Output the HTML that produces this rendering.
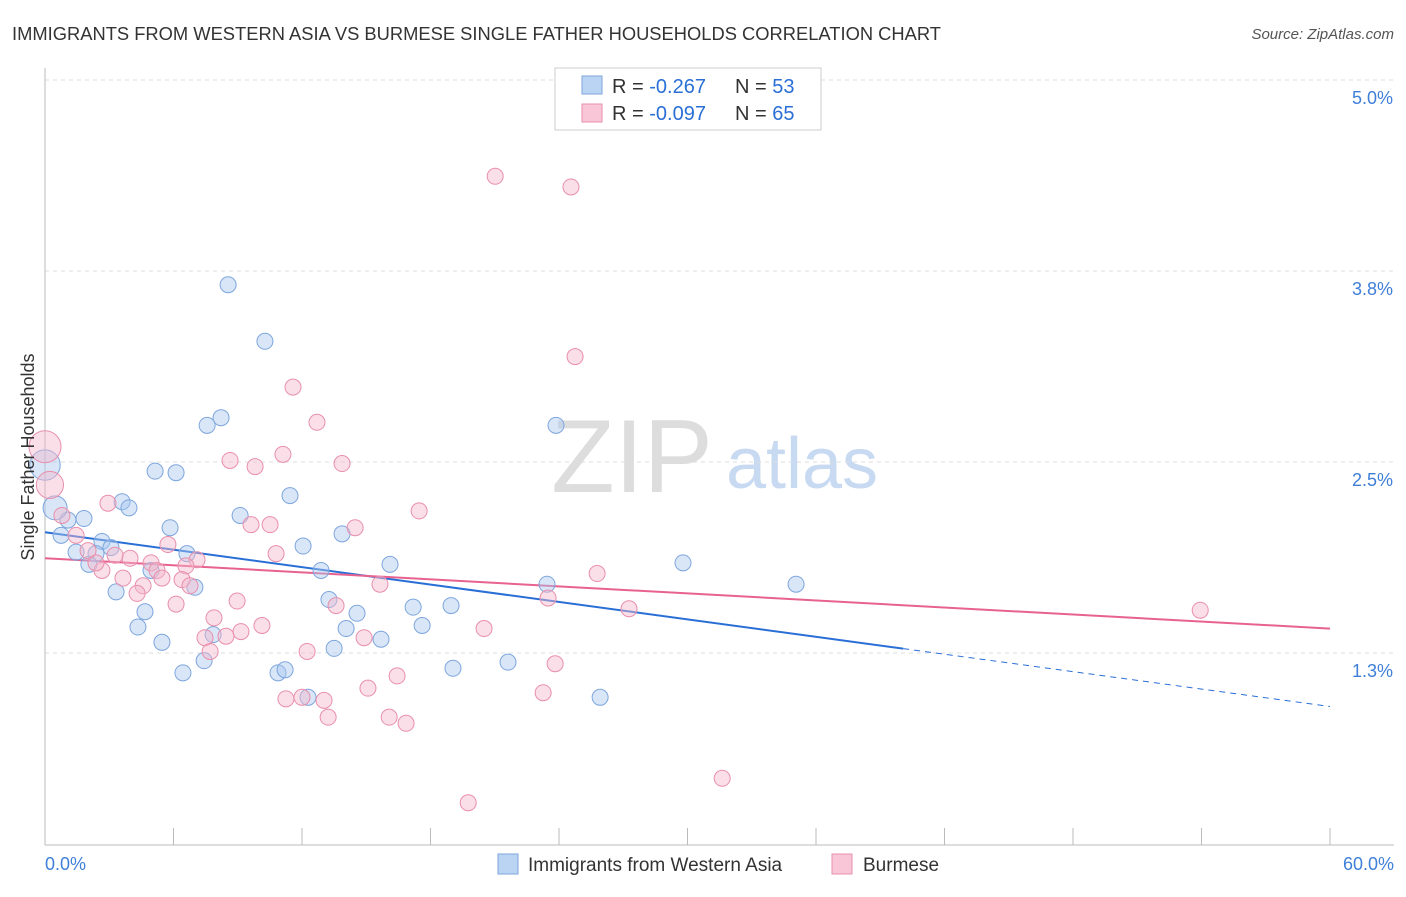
<!DOCTYPE html>
<html><head><meta charset="utf-8"><style>
body{margin:0;background:#fff;font-family:"Liberation Sans",sans-serif}
svg text{font-family:"Liberation Sans",sans-serif}
</style></head><body>
<svg id="chart" width="1406" height="892">
<text x="12" y="40" font-size="18" fill="#333" textLength="929" lengthAdjust="spacingAndGlyphs">IMMIGRANTS FROM WESTERN ASIA VS BURMESE SINGLE FATHER HOUSEHOLDS CORRELATION CHART</text>
<text x="1394" y="39" font-size="15" fill="#555" font-style="italic" text-anchor="end">Source: ZipAtlas.com</text>
<g><text x="632" y="492" font-size="104" fill="#ddd" text-anchor="middle" font-family="Liberation Serif">ZIP</text><text x="802" y="488" font-size="72" fill="#c8daf2" text-anchor="middle">atlas</text></g>
<g id="grid"></g><g id="axes"></g><g id="lines"></g><g id="pts"></g>
<text transform="translate(34,457) rotate(-90)" font-size="18" fill="#333" text-anchor="middle">Single Father Households</text>
<g>
<rect x="555" y="68" width="266" height="62" fill="#fff" stroke="#ccc"/>
<rect x="582" y="76" width="20" height="18" fill="#bcd4f4" stroke="#7ea6dd"/>
<rect x="582" y="104" width="20" height="18" fill="#f8c6d6" stroke="#e98fac"/>
<text x="612" y="93" font-size="20" fill="#333">R = <tspan fill="#2a6fd6">-0.267</tspan><tspan x="735">N = </tspan><tspan fill="#2a6fd6">53</tspan></text>
<text x="612" y="120" font-size="20" fill="#333">R = <tspan fill="#2a6fd6">-0.097</tspan><tspan x="735">N = </tspan><tspan fill="#2a6fd6">65</tspan></text>
</g>
<g>
<rect x="498" y="854" width="20" height="20" fill="#bcd4f4" stroke="#7ea6dd"/>
<text x="528" y="871" font-size="19" fill="#333">Immigrants from Western Asia</text>
<rect x="832" y="854" width="20" height="20" fill="#f8c6d6" stroke="#e98fac"/>
<text x="863" y="871" font-size="19" fill="#333">Burmese</text>
</g>
</svg>
<script>
const blueX=[8.55,10.27,8.22,7.57,23.86,5.14,6.12,11.44,3.60,3.92,9.11,1.82,1.07,5.84,13.87,0.75,2.66,3.08,12.05,6.63,2.38,1.45,16.11,29.79,2.05,4.95,12.89,7.00,23.44,35.07,3.32,13.26,17.19,18.96,4.67,14.57,17.61,4.34,14.06,7.85,5.46,15.69,13.50,21.62,19.05,7.43,6.44,10.88,11.21,25.92,12.28,0,0.47];
const blueY=[3.66,3.29,2.79,2.74,2.74,2.44,2.43,2.28,2.24,2.20,2.15,2.13,2.12,2.07,2.03,2.02,1.98,1.94,1.95,1.90,1.90,1.91,1.83,1.84,1.83,1.79,1.79,1.68,1.70,1.70,1.65,1.60,1.55,1.56,1.52,1.51,1.43,1.42,1.41,1.37,1.32,1.34,1.28,1.19,1.15,1.20,1.12,1.12,1.14,0.96,0.96,2.48,2.20];
const blueSize=[1,1,1,1,1,1,1,1,1,1,1,1,1,1,1,1,1,1,1,1,1,1,1,1,1,1,1,1,1,1,1,1,1,1,1,1,1,1,1,1,1,1,1,1,1,1,1,1,1,1,1,1.9,1.5];
const pinkX=[21.02,24.56,24.75,11.58,12.70,8.64,9.81,11.11,13.87,2.94,17.47,14.48,9.62,10.51,0.79,1.45,5.74,7.10,10.79,3.97,4.95,5.23,6.58,2.66,2.38,3.64,4.58,5.46,6.40,6.77,15.64,25.78,23.49,4.30,8.97,6.12,13.59,27.27,53.94,7.89,10.13,9.15,20.50,7.47,8.45,14.90,12.24,7.71,23.82,16.44,15.08,23.26,11.25,13.03,12.00,13.22,16.07,16.86,31.62,19.76,0,0.23,2.01,3.27];
const pinkY=[4.37,4.30,3.19,2.99,2.76,2.51,2.47,2.55,2.49,2.23,2.18,2.07,2.09,2.09,2.15,2.02,1.96,1.86,1.90,1.87,1.84,1.79,1.82,1.79,1.84,1.74,1.69,1.74,1.73,1.69,1.70,1.77,1.61,1.64,1.59,1.57,1.56,1.54,1.53,1.48,1.43,1.39,1.41,1.35,1.36,1.35,1.26,1.26,1.18,1.10,1.02,0.99,0.95,0.94,0.96,0.83,0.83,0.79,0.43,0.27,2.60,2.35,1.92,1.89];
const pinkSize=[1,1,1,1,1,1,1,1,1,1,1,1,1,1,1,1,1,1,1,1,1,1,1,1,1,1,1,1,1,1,1,1,1,1,1,1,1,1,1,1,1,1,1,1,1,1,1,1,1,1,1,1,1,1,1,1,1,1,1,1,2.0,1.7,1,1];
const yTicks=[1.25,2.5,3.75,5.0];
const yTickLabels=["1.3%","2.5%","3.8%","5.0%"];
const xTicks=[0,6,12,18,24,30,36,42,48,54,60];
const blueTrend=[2.04,-0.019]; const blueSolidEnd=40.07;
const pinkTrend=[1.87,-0.00767];
const X=v=>45+v/60*1285, Y=v=>653-(v-1.25)*152.8;
const NS="http://www.w3.org/2000/svg";
function mk(p,t,a){const e=document.createElementNS(NS,t);for(const k in a)e.setAttribute(k,a[k]);document.getElementById(p).appendChild(e);return e;}
yTicks.forEach((v,i)=>{
 const l=mk('grid','line',{x1:45,x2:1394,y1:Y(v),y2:Y(v),stroke:'#ddd','stroke-dasharray':'4,4'});
 
 
 const t=mk('axes','text',{x:1393,y:Y(v)+24,'font-size':18,fill:'#3f7fd8','text-anchor':'end'});t.textContent=yTickLabels[i];
 
 
});
const ax=mk('axes','line',{x1:45,x2:45,y1:68,y2:845,stroke:'#bbb'});


const bx=mk('axes','line',{x1:45,x2:1394,y1:845,y2:845,stroke:'#bbb'});


xTicks.forEach(v=>{const t=mk('axes','line',{x1:X(v),x2:X(v),y1:828,y2:845,stroke:'#bbb'});
 
 });
[[0,"0.0%",'start',45],[60,"60.0%",'end',1394]].forEach(d=>{const t=mk('axes','text',{x:d[3],y:870,'font-size':18,fill:'#3f7fd8','text-anchor':d[2]});t.textContent=d[1];
 
 });
function pts(xs,ys,ss,fill,stroke,name){xs.forEach((x,i)=>{const c=mk('pts','circle',{cx:X(x),cy:Y(ys[i]),r:8*ss[i],fill:fill,'fill-opacity':0.45,stroke:stroke,'stroke-width':1});
 
 });}
pts(blueX,blueY,blueSize,'#a9c8f0','#7ea6dd','point-western-asia');
pts(pinkX,pinkY,pinkSize,'#f5b8cb','#e98fac','point-burmese');
const bl=mk('lines','line',{x1:X(0),y1:Y(blueTrend[0]),x2:X(blueSolidEnd),y2:Y(blueTrend[0]+blueTrend[1]*blueSolidEnd),stroke:'#2a6fd6','stroke-width':2});


const bd=mk('lines','line',{x1:X(blueSolidEnd),y1:Y(blueTrend[0]+blueTrend[1]*blueSolidEnd),x2:X(60),y2:Y(blueTrend[0]+blueTrend[1]*60),stroke:'#2a6fd6','stroke-width':1,'stroke-dasharray':'6,5'});


const pl=mk('lines','line',{x1:X(0),y1:Y(pinkTrend[0]),x2:X(60),y2:Y(pinkTrend[0]+pinkTrend[1]*60),stroke:'#e8628f','stroke-width':2});


</script>
</body></html>
